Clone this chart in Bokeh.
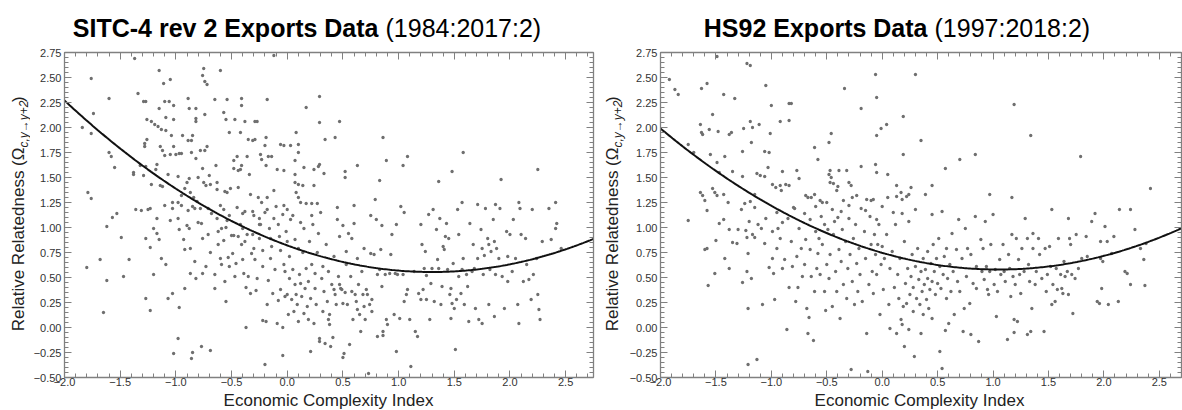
import numpy as np
from bokeh.plotting import figure
from bokeh.layouts import row, column
from bokeh.models import Range1d, LinearAxis, FixedTicker
from bokeh.core.properties import value
from bokeh.embed import file_html
from bokeh.resources import INLINE

# ---------------- data ----------------
sitc_title = "SITC-4 rev 2 Exports Data"
sitc_period = "(1984:2017:2)"
hs_title = "HS92 Exports Data"
hs_period = "(1997:2018:2)"
x_label = "Economic Complexity Index"
y_label_main = "Relative Relatedness (\u03a9"
y_label_sub = "c,y\u2192y+2"
y_label_end = ")"

x_ticks = [-2.0, -1.5, -1.0, -0.5, 0.0, 0.5, 1.0, 1.5, 2.0, 2.5]
x_tick_labels = ["\u22122.0", "\u22121.5", "\u22121.0", "\u22120.5", "0.0", "0.5", "1.0", "1.5", "2.0", "2.5"]
y_ticks = [-0.5, -0.25, 0.0, 0.25, 0.5, 0.75, 1.0, 1.25, 1.5, 1.75, 2.0, 2.25, 2.5, 2.75]
y_tick_labels = ["\u22120.50", "\u22120.25", "0.00", "0.25", "0.50", "0.75", "1.00", "1.25",
                 "1.50", "1.75", "2.00", "2.25", "2.50", "2.75"]

# quadratic fit coefficients (a, b, c)
sitc_fit = [0.1575, -0.4095, 0.8212]
hs_fit = [0.1516, -0.3184, 0.7471]

sitc_points = [
    (-1.37, 2.69), (-1.76, 2.49), (-0.12, 2.72), (-1.15, 2.57), (-1.05, 2.48), (-1.11, 2.44),
    (-0.75, 2.59), (-0.76, 2.52), (-0.74, 2.46), (-0.72, 2.43), (-0.60, 2.57), (-1.60, 2.29),
    (-1.34, 2.34), (-1.29, 2.26), (-1.27, 2.26), (-1.10, 2.26), (-1.06, 2.26), (-1.15, 2.19),
    (-1.02, 2.22), (-0.89, 2.29), (-0.88, 2.19), (-0.82, 2.19), (-0.74, 2.13), (-0.65, 2.28),
    (-0.54, 2.28), (-0.41, 2.29), (-0.41, 2.22), (-0.57, 2.15), (-0.55, 2.08), (-0.18, 2.28),
    (0.29, 2.31), (-1.74, 2.14), (-1.84, 2.00), (-1.76, 1.94), (-1.26, 2.08), (-1.22, 2.06),
    (-1.19, 2.03), (-1.16, 2.01), (-1.13, 1.98), (-1.09, 2.10), (-1.02, 2.08), (-1.09, 1.97),
    (-1.04, 1.92), (-0.82, 2.09), (-0.82, 2.06), (-0.94, 1.92), (-0.85, 1.92), (-0.89, 1.87),
    (-0.86, 1.87), (-1.26, 1.88), (-1.28, 1.84), (-1.28, 1.81), (-1.14, 1.81), (-1.12, 1.77),
    (-1.10, 1.72), (-1.05, 1.73), (-1.02, 1.81), (-1.00, 1.73), (-0.97, 1.74), (-0.95, 1.74),
    (-0.86, 1.75), (-0.78, 1.77), (-0.74, 1.77), (-0.72, 1.81), (-0.82, 1.69), (-0.47, 2.08),
    (-0.52, 1.95), (-0.42, 1.95), (-0.27, 2.06), (-0.29, 2.06), (-0.19, 1.90), (-0.29, 1.88),
    (-0.20, 1.82), (-0.06, 1.83), (0.08, 1.95), (0.17, 2.20), (0.29, 2.05), (0.47, 2.06),
    (0.43, 1.90), (0.34, 1.88), (0.86, 1.90), (1.08, 1.71), (1.58, 1.75), (2.25, 1.58),
    (1.04, 1.62), (0.89, 1.67), (0.63, 1.62), (0.52, 1.56), (0.52, 1.50), (0.83, 1.47),
    (1.36, 1.46), (1.48, 1.56), (1.92, 1.48), (0.79, 1.28), (1.57, 1.25), (2.08, 1.25),
    (2.41, 1.25), (1.71, 1.23), (1.87, 1.23),
    (-0.38, 2.06), (-0.35, 1.88), (-0.31, 1.87), (-0.17, 1.71), (-0.14, 1.71), (-0.19, 1.62),
    (-0.23, 1.68), (-0.24, 1.73), (-0.45, 1.71), (-0.36, 1.71), (-0.48, 1.67), (-0.48, 1.59),
    (-0.44, 1.57), (-0.42, 1.58), (-0.41, 1.62), (-0.34, 1.53), (-0.64, 1.62), (-0.70, 1.52),
    (-0.75, 1.45), (-0.76, 1.59), (-0.80, 1.50), (-0.88, 1.49), (-0.90, 1.45), (-0.92, 1.39),
    (-0.87, 1.35), (-0.84, 1.30), (-0.81, 1.26), (-0.98, 1.25), (-0.73, 1.42), (-0.69, 1.43),
    (-0.63, 1.45), (-0.63, 1.38), (-0.56, 1.36), (-0.54, 1.35), (-0.51, 1.39), (-0.44, 1.40),
    (-0.33, 1.33), (-0.26, 1.30), (-0.23, 1.25), (-0.18, 1.30), (-0.12, 1.37), (-0.09, 1.58),
    (-0.03, 1.57), (-0.03, 1.82), (0.03, 1.82), (0.07, 1.67), (0.07, 1.53), (0.07, 1.45),
    (0.10, 1.43), (0.14, 1.42), (0.15, 1.60), (0.10, 1.75), (0.10, 1.83), (0.24, 1.58),
    (0.28, 1.61), (0.24, 1.42), (0.29, 1.63), (0.33, 1.54), (0.08, 1.35), (0.10, 1.30),
    (0.12, 1.25), (0.17, 1.24), (0.22, 1.24), (0.27, 1.24), (-0.03, 1.22),
    (-1.60, 1.75), (-1.58, 1.71), (-1.55, 1.60), (-1.38, 1.55), (-1.38, 1.53), (-1.32, 1.62),
    (-1.29, 1.52), (-1.27, 1.61), (-1.22, 1.43), (-1.18, 1.58), (-1.17, 1.63), (-1.14, 1.42),
    (-1.12, 1.41), (-1.07, 1.53), (-0.98, 1.51), (-1.79, 1.35), (-1.76, 1.29), (-1.03, 1.25),
    (-0.95, 1.32),
    (-0.95, 1.22), (-0.85, 1.21), (-0.60, 1.22), (-0.45, 1.20), (-0.40, 1.14), (-0.30, 1.12),
    (-0.20, 1.15), (-0.10, 1.21), (0.00, 1.18), (0.05, 1.12), (0.12, 1.05), (-0.52, 1.12),
    (-0.68, 1.14), (-0.80, 1.05), (-0.90, 1.02), (-1.10, 1.22), (0.30, 1.15), (0.45, 1.20),
    (0.60, 1.22), (0.75, 1.12), (1.05, 1.15), (0.85, 1.02), (0.50, 1.02), (-0.25, 1.03),
    (-0.55, 1.00), (0.22, 1.12),
    (-1.80, 0.60), (-1.68, 0.68), (-1.65, 0.15), (-1.62, 1.01), (-1.62, 0.47), (-1.57, 1.10),
    (-1.53, 1.14), (-1.49, 0.90), (-1.47, 0.51), (-1.42, 0.68), (-1.36, 1.18), (-1.31, 1.17),
    (-1.27, 0.89), (-1.27, 0.29), (-1.25, 1.18), (-1.23, 1.19), (-1.20, 0.99), (-1.23, 0.80),
    (-1.23, 0.17), (-1.20, 0.53), (-1.17, 0.94), (-1.15, 0.88), (-1.17, 1.09), (-1.13, 0.69),
    (-1.09, 0.63), (-1.07, 0.29), (-1.05, 1.07), (-1.03, 1.19), (-1.03, 0.34), (-1.02, -0.26),
    (-0.98, 1.09), (-0.97, 0.98), (-0.93, 0.88), (-0.92, 0.78), (-0.92, 0.39), (-0.98, -0.11),
    (-0.97, 0.20), (-0.89, 1.17), (-0.88, 0.99), (-0.87, 0.79), (-0.87, 0.54), (-0.86, -0.31),
    (-0.85, -0.25), (-0.83, 1.19), (-0.83, 0.66), (-0.82, 0.49), (-0.78, 1.19), (-0.77, 1.04),
    (-0.76, 0.89), (-0.76, 0.54), (-0.77, -0.19), (-0.73, 0.61), (-0.71, 1.19), (-0.71, 0.93),
    (-0.69, -0.23), (-0.69, 0.75), (-0.65, 0.53), (-0.65, 0.39), (-0.63, 1.09), (-0.62, 0.96),
    (-0.62, 0.83), (-0.60, 0.69), (-0.59, 0.63), (-0.59, 0.99), (-0.57, 1.18), (-0.57, 0.87),
    (-0.56, 0.46), (-0.55, 0.26), (-0.54, 1.07), (-0.53, 0.70), (-0.52, 0.61), (-0.50, 0.92),
    (-0.48, 0.92), (-0.49, 0.74), (-0.47, 0.51), (-0.46, 0.64), (-0.44, 0.91), (-0.42, 1.03),
    (-0.41, 0.83), (-0.40, 0.99), (-0.40, 0.68), (-0.39, 0.54), (-0.38, 1.16), (-0.38, 0.86),
    (-0.37, 0.00), (-0.37, 0.40), (-0.36, 0.93), (-0.35, 0.51), (-0.33, 0.34), (-0.32, 0.74),
    (-0.31, 1.16), (-0.31, 0.93), (-0.30, 0.79), (-0.29, 0.68), (-0.28, 0.37), (-0.27, 0.49),
    (-0.25, 1.09), (-0.25, 0.89), (-0.24, 1.03), (-0.22, 0.77), (-0.22, 0.61), (-0.22, 0.07),
    (-0.20, -0.37), (-0.19, 0.06), (-0.18, 1.18), (-0.18, 0.23), (-0.17, 0.47), (-0.16, 0.99),
    (-0.15, 0.89), (-0.15, 0.69), (-0.14, 0.81), (-0.13, 0.34), (-0.12, 1.09), (-0.11, 0.58),
    (-0.09, 0.04), (-0.08, 0.27), (-0.08, 1.03), (-0.07, 0.91), (-0.06, 0.77), (-0.06, 0.38),
    (-0.04, 1.13), (-0.04, 0.00), (-0.04, -0.28), (-0.03, 0.63), (-0.02, 0.56), (-0.02, 0.31),
    (-0.01, 0.96), (0.00, 0.86), (0.00, 0.33), (0.01, 0.13), (0.02, 0.49), (0.02, 0.71),
    (0.03, 1.08), (0.04, 0.28), (0.05, 0.58), (0.06, 0.16), (0.07, 0.43), (0.07, 0.88),
    (0.08, 0.33), (0.09, 0.23), (0.10, 0.79), (0.10, 0.06), (0.11, 0.53), (0.12, 0.44),
    (0.13, 0.31), (0.14, 0.75), (0.15, 0.14), (0.15, 0.99), (0.16, 0.39), (0.17, 0.59),
    (0.18, 0.21), (0.19, 0.08), (0.19, 0.46), (0.20, 0.86), (0.21, -0.24), (0.21, 0.29),
    (0.22, 0.63), (0.23, 1.03), (0.24, 0.04), (0.25, 0.39), (0.25, 0.54), (0.26, 0.23),
    (0.27, 0.75), (0.28, 0.94), (0.29, -0.11), (0.29, -0.14), (0.31, 0.49), (0.32, 0.16),
    (0.32, 0.61), (0.33, 0.36), (0.34, -0.16), (0.35, 0.83), (0.36, 0.26), (0.37, 0.08),
    (0.37, 0.56), (0.38, 0.03), (0.38, 0.13), (0.39, -0.19), (0.40, 0.43), (0.41, -0.10),
    (0.42, 0.71), (0.42, 0.38), (0.43, 0.33), (0.44, 0.23), (0.45, 1.08), (0.46, 0.51),
    (0.47, 0.91), (0.47, 0.43), (0.48, 0.39), (0.49, 0.38), (0.50, 0.24), (0.50, -0.30),
    (0.51, -0.26), (0.52, 0.35), (0.53, 0.76), (0.53, 0.63), (0.54, 0.23), (0.55, 0.94),
    (0.56, -0.17), (0.57, 0.51), (0.58, 0.36), (0.58, 0.89), (0.59, 0.08), (0.60, 1.04),
    (0.61, 0.33), (0.62, 0.26), (0.63, 0.69), (0.63, 0.18), (0.64, 0.43), (0.65, 0.13),
    (0.66, -0.04), (0.67, 0.56), (0.68, 0.33), (0.69, 0.79), (0.69, 0.21), (0.70, 0.08),
    (0.71, 0.38), (0.72, 0.33), (0.73, -0.46), (0.74, 0.23), (0.75, 0.74), (0.76, 0.28),
    (0.76, 0.16), (0.78, 0.73), (0.80, 1.08), (0.81, -0.09), (0.81, 0.53), (0.83, 0.58),
    (0.84, 0.78), (0.85, 0.41), (0.86, -0.08), (0.86, -0.04), (0.88, 0.53), (0.89, 0.08),
    (0.90, 0.03), (0.92, 0.54), (0.93, 0.73), (0.94, 0.93), (0.96, 0.13), (0.97, 0.54),
    (0.98, -0.24), (0.98, 1.03), (0.99, 0.53), (1.01, 0.09), (1.02, 1.21), (1.04, 0.53),
    (1.05, 0.26), (1.07, 0.33), (1.08, 0.38), (1.10, 0.08), (1.11, -0.39), (1.14, 0.56),
    (1.15, -0.04), (1.17, -0.09), (1.18, 0.34), (1.20, 1.03), (1.20, 0.28), (1.21, 0.83),
    (1.22, 0.38), (1.23, 0.59), (1.24, 0.76), (1.25, 0.52), (1.25, 0.28), (1.27, 1.13),
    (1.28, 0.08), (1.29, 0.44), (1.30, 0.59), (1.31, 1.18), (1.32, 0.26), (1.34, 0.98),
    (1.35, 0.68), (1.36, 0.59), (1.37, 1.09), (1.38, 0.23), (1.39, 0.41), (1.40, 0.81),
    (1.41, 0.78), (1.42, 0.91), (1.43, 1.04), (1.44, 0.58), (1.45, 0.89), (1.46, 0.33),
    (1.47, 0.09), (1.47, 0.39), (1.48, 0.24), (1.49, 0.64), (1.50, 0.19), (1.51, -0.22),
    (1.52, 0.28), (1.53, 1.18), (1.54, 0.51), (1.54, 0.93), (1.56, 0.34), (1.57, 0.58),
    (1.58, 0.69), (1.59, 0.23), (1.61, 0.53), (1.62, 0.41), (1.63, 0.06), (1.64, 1.04),
    (1.66, 0.56), (1.67, 0.83), (1.68, 0.59), (1.69, 0.19), (1.71, 0.69), (1.72, 0.08),
    (1.74, 0.98), (1.75, 0.79), (1.75, 0.04), (1.76, 0.53), (1.77, 0.72), (1.78, 1.19),
    (1.80, 0.89), (1.81, 0.83), (1.81, 0.23), (1.82, 0.58), (1.83, 0.76), (1.85, 1.08),
    (1.86, 0.11), (1.86, 0.86), (1.87, 0.53), (1.88, 0.79), (1.90, 0.69), (1.91, 1.19),
    (1.93, 0.51), (1.95, 0.19), (1.97, 0.96), (1.98, 0.71), (1.98, 0.46), (2.00, 0.93),
    (2.02, 0.56), (2.03, 1.08), (2.05, 0.69), (2.07, 0.23), (2.08, 0.04), (2.09, 1.19),
    (2.10, 0.93), (2.12, 0.46), (2.14, 0.89), (2.15, 0.63), (2.17, 0.48), (2.19, 0.28),
    (2.20, 1.18), (2.21, 0.53), (2.24, 0.69), (2.25, 0.33), (2.26, 0.18), (2.27, 0.08),
    (2.29, 0.86), (2.35, 1.19), (2.37, 0.88), (2.41, 0.99), (2.42, 1.04), (2.46, 0.79),
]

hs_points = [
    (-1.92, 2.48), (-1.87, 2.38), (-1.84, 2.33), (-1.75, 1.83), (-1.70, 1.75), (-1.63, 2.39),
    (-1.58, 2.44), (-1.49, 2.71), (-1.64, 2.03), (-1.63, 1.95), (-1.62, 1.93), (-1.56, 1.98),
    (-1.53, 2.13), (-1.48, 1.96), (-1.43, 2.33), (-1.38, 1.93), (-1.36, 1.95), (-1.33, 2.29),
    (-1.25, 1.99), (-1.22, 2.64), (-1.19, 2.62), (-1.19, 2.06), (-1.17, 2.00), (-1.11, 2.03),
    (-1.05, 2.42), (-1.00, 2.22), (-1.01, 1.94), (-1.55, 1.73), (-1.49, 1.65), (-1.42, 1.71),
    (-1.47, 1.55), (-1.35, 1.56), (-1.26, 1.76), (-1.26, 1.51), (-1.18, 1.85), (-1.13, 1.54),
    (-1.10, 1.52), (-1.06, 1.76), (-1.02, 1.75), (-1.03, 1.60), (-1.06, 1.51), (-0.92, 2.06),
    (-0.84, 2.24), (-0.82, 2.24), (-0.84, 2.07), (-0.90, 1.56), (-0.87, 1.43), (-0.84, 1.42),
    (-0.77, 1.57), (-0.75, 1.49), (-0.92, 1.42), (-0.99, 1.43), (-0.96, 1.40), (-0.91, 1.37),
    (-0.64, 1.30), (-0.61, 1.33), (-0.56, 1.27), (-0.54, 1.25), (-0.50, 1.25), (-0.61, 1.80),
    (-0.58, 1.68), (-0.48, 1.85), (-0.46, 1.94), (-0.47, 1.57), (-0.48, 1.53), (-0.46, 1.50),
    (-0.47, 1.45), (-0.44, 1.44), (-0.40, 1.41), (-0.39, 1.57), (-0.34, 2.39), (-0.30, 1.45),
    (-0.32, 1.57), (-0.28, 1.42), (-0.27, 1.30), (-0.19, 1.61), (-0.19, 2.19), (-0.10, 1.27),
    (-0.08, 1.28), (-0.06, 2.53), (-0.05, 2.30), (-0.05, 1.92), (-0.06, 1.63), (-0.05, 1.55),
    (-0.01, 1.99), (0.04, 2.03), (0.05, 1.53), (0.05, 1.30), (0.13, 1.42), (0.13, 1.31),
    (0.17, 1.35), (0.18, 1.28), (0.19, 2.11), (0.19, 1.73), (0.22, 1.31), (0.24, 1.33),
    (0.26, 1.40), (0.30, 2.53), (0.35, 1.87), (0.39, 1.33), (0.45, 1.42), (0.57, 1.59),
    (0.70, 1.68), (0.84, 1.73), (0.97, 1.33), (1.17, 1.30), (1.19, 2.23), (1.34, 1.92),
    (1.79, 1.71), (2.42, 1.39),
    (-1.64, 1.35), (-1.62, 1.32), (-1.60, 1.27), (-1.53, 1.39), (-1.51, 1.35), (-1.49, 1.32),
    (-1.43, 1.33), (-1.39, 1.25), (-1.24, 1.24), (-1.19, 1.26), (-1.15, 1.33),
    (-0.69, 1.32), (-0.67, 1.30), (-0.41, 1.37), (-0.35, 1.27), (-0.23, 1.32), (-0.14, 1.28),
    (-1.15, 1.20), (-0.95, 1.15), (-0.80, 1.20), (-0.70, 1.14), (-0.60, 1.21), (-0.45, 1.18),
    (-0.30, 1.22), (-0.15, 1.17), (0.00, 1.21), (0.10, 1.15), (0.30, 1.18), (0.45, 1.13),
    (-0.52, 1.03), (-0.90, 1.05), (-0.40, 1.10), (-0.05, 1.08),
    (-1.75, 1.07), (-1.60, 0.78), (-1.58, 0.79), (-1.58, 1.17), (-1.57, 0.42), (-1.51, 0.54),
    (-1.50, 0.87), (-1.47, 1.04), (-1.43, 1.08), (-1.42, 0.69), (-1.38, 0.98), (-1.38, 0.59),
    (-1.35, 0.85), (-1.31, 0.84), (-1.30, 0.98), (-1.27, 1.18), (-1.26, 0.45), (-1.23, 0.97),
    (-1.22, 0.90), (-1.22, 0.56), (-1.21, 0.74), (-1.21, -0.37), (-1.21, 0.19), (-1.20, 1.06),
    (-1.18, 0.49), (-1.17, 0.93), (-1.15, 0.90), (-1.13, -0.32), (-1.12, 1.03), (-1.09, 0.99),
    (-1.08, 0.23), (-1.06, 0.84), (-1.05, 1.09), (-1.02, 0.60), (-0.99, 0.69), (-0.99, 0.96),
    (-0.98, 0.54), (-0.97, 0.28), (-0.95, 0.79), (-0.94, 0.99), (-0.92, 0.89), (-0.90, 0.59),
    (-0.88, 0.68), (-0.86, -0.02), (-0.85, 1.09), (-0.84, 0.40), (-0.82, 0.86), (-0.81, 0.61),
    (-0.79, 1.19), (-0.78, 0.26), (-0.77, 0.71), (-0.76, 0.40), (-0.75, 0.99), (-0.73, 0.79),
    (-0.72, 0.51), (-0.70, 0.63), (-0.69, 0.88), (-0.68, 0.19), (-0.67, -0.06), (-0.66, 0.10),
    (-0.65, 1.08), (-0.65, 0.78), (-0.64, 0.51), (-0.62, -0.13), (-0.61, 0.36), (-0.60, 0.96),
    (-0.59, 0.59), (-0.58, 0.74), (-0.57, 0.89), (-0.56, 0.53), (-0.55, 1.11), (-0.54, 0.83),
    (-0.52, 0.36), (-0.51, 0.17), (-0.50, 0.63), (-0.49, 0.98), (-0.48, 0.49), (-0.47, 0.73),
    (-0.45, 0.21), (-0.44, 0.93), (-0.43, 1.06), (-0.42, 0.56), (-0.41, 0.36), (-0.39, 0.78),
    (-0.38, 0.09), (-0.37, 1.16), (-0.37, 0.66), (-0.36, 0.98), (-0.35, 0.43), (-0.33, 0.86),
    (-0.32, 0.29), (-0.31, 0.59), (-0.30, 1.09), (-0.29, 0.73), (-0.28, -0.42), (-0.27, 0.46),
    (-0.26, 0.89), (-0.25, 0.23), (-0.24, 1.03), (-0.23, 0.64), (-0.22, 0.36), (-0.21, 0.79),
    (-0.20, 0.53), (-0.19, 1.19), (-0.18, 0.26), (-0.16, 0.96), (-0.15, 0.69), (-0.14, -0.06),
    (-0.13, -0.44), (-0.12, 0.43), (-0.11, 1.11), (-0.10, 0.83), (-0.09, 0.56), (-0.08, 0.34),
    (-0.07, 0.93), (-0.06, 0.73), (-0.05, 0.53), (-0.04, 0.83), (-0.03, 1.03), (-0.02, 0.13),
    (-0.01, 0.63), (0.00, 0.81), (0.01, 0.38), (0.02, 0.69), (0.04, 0.93), (0.06, 0.23),
    (0.07, 0.59), (0.07, -0.01), (0.09, 0.76), (0.11, 0.40), (0.12, 1.03), (0.13, -0.06),
    (0.14, 0.53), (0.15, 0.29), (0.16, 0.69), (0.17, 0.08), (0.18, 1.14), (0.18, 0.03),
    (0.19, 0.21), (0.20, -0.19), (0.20, 0.86), (0.21, 0.44), (0.22, 0.24), (0.23, 0.59),
    (0.24, -0.02), (0.24, 1.06), (0.25, 0.33), (0.26, 0.51), (0.27, 0.73), (0.28, 0.16),
    (0.28, 0.40), (0.29, -0.29), (0.30, 0.61), (0.31, 0.29), (0.32, 0.79), (0.33, 0.48),
    (0.34, 0.23), (0.35, 0.56), (0.35, -0.06), (0.36, 0.36), (0.37, 0.69), (0.37, 0.13),
    (0.38, 0.43), (0.39, 0.58), (0.40, 0.28), (0.41, 0.49), (0.41, 0.76), (0.42, 0.19),
    (0.43, 0.38), (0.44, 0.64), (0.45, 0.46), (0.45, 0.09), (0.46, 0.83), (0.47, 0.56),
    (0.48, 0.33), (0.49, 0.69), (0.50, 0.44), (0.51, 0.89), (0.52, 0.61), (0.52, -0.24),
    (0.53, 0.39), (0.54, 1.16), (0.54, -0.41), (0.55, 0.53), (0.56, 0.71), (0.57, -0.03),
    (0.58, 0.29), (0.58, 0.79), (0.59, 0.49), (0.60, 0.04), (0.61, 0.63), (0.62, 0.36),
    (0.63, 0.94), (0.64, 0.56), (0.65, 0.13), (0.67, 0.78), (0.68, 0.46), (0.69, 1.08),
    (0.70, 0.36), (0.72, 0.69), (0.73, -0.04), (0.74, 0.19), (0.75, 0.99), (0.76, 0.51),
    (0.77, 0.79), (0.79, 0.24), (0.80, -0.07), (0.80, 0.73), (0.82, 0.44), (0.84, 1.11),
    (0.85, 0.61), (0.85, 0.39), (0.87, -0.14), (0.89, 0.88), (0.90, 0.56), (0.91, 0.79),
    (0.92, 0.48), (0.93, 1.06), (0.94, 0.61), (0.95, 0.38), (0.96, 0.33), (0.97, 0.56),
    (0.98, 0.83), (1.00, 1.13), (1.01, 0.43), (1.02, 0.58), (1.03, 0.11), (1.04, 0.36),
    (1.06, 0.68), (1.07, 0.53), (1.09, 0.83), (1.10, 0.56), (1.11, 0.46), (1.13, -0.12),
    (1.14, 0.73), (1.15, 0.59), (1.16, 0.31), (1.17, 0.93), (1.18, 0.51), (1.19, -0.05),
    (1.19, 0.08), (1.20, 0.43), (1.21, 0.89), (1.22, 0.06), (1.23, 0.68), (1.24, 0.53),
    (1.25, 0.34), (1.26, 0.79), (1.28, 0.56), (1.29, 1.09), (1.31, 0.89), (1.31, -0.07),
    (1.32, 0.63), (1.33, 0.46), (1.34, -0.04), (1.35, 0.19), (1.36, 0.79), (1.36, 0.94),
    (1.38, 0.43), (1.39, 0.56), (1.41, 0.89), (1.42, 0.73), (1.44, 0.49), (1.46, -0.04),
    (1.47, 0.79), (1.48, 0.36), (1.49, 0.53), (1.51, 0.81), (1.52, 0.61), (1.53, 1.18),
    (1.53, 0.23), (1.54, 0.43), (1.56, 0.26), (1.57, 0.59), (1.58, 0.38), (1.59, 0.89),
    (1.61, 0.53), (1.62, 0.39), (1.63, 0.34), (1.64, 0.66), (1.65, 0.51), (1.67, 0.56),
    (1.68, 1.09), (1.68, 0.33), (1.69, 0.89), (1.70, 0.83), (1.71, 0.53), (1.72, 0.14),
    (1.74, 0.49), (1.75, 0.93), (1.77, 0.59), (1.80, 0.69), (1.84, 0.91), (1.85, 0.71),
    (1.89, 1.06), (1.92, 1.14), (1.94, 0.26), (1.96, 0.24), (1.97, 0.86), (1.97, 0.69),
    (1.98, 0.39), (1.99, 0.66), (2.01, 1.01), (2.03, 0.86), (2.04, 0.23), (2.07, 0.74),
    (2.09, 0.91), (2.13, 0.26), (2.14, 1.18), (2.19, 0.56), (2.21, 0.54), (2.24, 1.18),
    (2.24, 0.43), (2.28, 0.98), (2.33, 0.79), (2.36, 0.68), (2.37, 0.42), (2.38, 0.84),
]

# ---------------- styling / layout constants (pixels) ----------------
FONT = "Liberation Sans"
AXIS_GREY = "#808080"
DOT_GREY = "#6f6f6f"
TEXT_DARK = "#222222"
H_TITLE = 48      # title strip height (screen 0..48)
H_MID = 342       # plot strip height (screen 48..390, frame 52..377)
H_XLAB = 20       # x label strip height (screen 390..410)
W_YLAB = 30       # y label strip width


def text_strip(width, height):
    f = figure(width=width, height=height, output_backend="svg", toolbar_location=None,
               x_range=Range1d(0, width), y_range=Range1d(0, height),
               min_border_left=0, min_border_right=0, min_border_top=0, min_border_bottom=0,
               x_axis_location=None, y_axis_location=None)
    f.outline_line_color = None
    f.grid.visible = False
    f.border_fill_color = "white"
    f.background_fill_color = "white"
    return f


def add_text(f, x, y, txt, size, style="normal", angle=0.0, align="left", color=TEXT_DARK):
    f.text(x=[x], y=[y], text=[txt], angle=angle, text_font=value(FONT),
           text_font_size=value(size), text_font_style=style, text_color=color,
           text_align=align, text_baseline="middle")


def build_panel(points, fit, title_bold, title_rest, x_end, width,
                frame_left, border_right, title_joint):
    # ---- scatter plot ----
    pw = width - W_YLAB
    p = figure(width=pw, height=H_MID, output_backend="svg", toolbar_location=None,
               x_range=Range1d(-2.0, x_end), y_range=Range1d(-0.5, 2.75),
               min_border_left=frame_left - W_YLAB, min_border_right=border_right,
               min_border_top=52 - H_TITLE, min_border_bottom=H_TITLE + H_MID - 377,
               x_axis_location=None, y_axis_location=None)
    p.outline_line_color = None
    p.grid.visible = False
    p.border_fill_color = "white"
    p.background_fill_color = "white"

    x_minor = [round(v, 2) for v in np.arange(-2.0, x_end + 1e-9, 0.1)]
    y_minor = [round(v, 3) for v in np.arange(-0.5, 2.75 + 1e-9, 0.05)]

    def style(ax, labels, ticks, standoff):
        ax.axis_line_color = AXIS_GREY
        ax.axis_line_width = 1.3
        ax.major_tick_line_color = AXIS_GREY
        ax.minor_tick_line_color = AXIS_GREY
        ax.major_tick_in = 7
        ax.major_tick_out = 0
        ax.minor_tick_in = 4
        ax.minor_tick_out = 0
        if labels is not None:
            ax.major_label_overrides = {t: l for t, l in zip(ticks, labels)}
            ax.major_label_text_font = FONT
            ax.major_label_text_font_size = "11px"
            ax.major_label_text_color = "#333333"
            ax.major_label_standoff = standoff
        else:
            ax.major_label_overrides = {t: "" for t in ticks}
            ax.major_label_text_font_size = "0px"
            ax.major_label_standoff = 0

    for loc, lab in (("below", x_tick_labels), ("above", None)):
        ax = LinearAxis(ticker=FixedTicker(ticks=x_ticks, minor_ticks=x_minor))
        style(ax, lab, x_ticks, 0)
        p.add_layout(ax, loc)
    for loc, lab in (("left", y_tick_labels), ("right", None)):
        ax = LinearAxis(ticker=FixedTicker(ticks=y_ticks, minor_ticks=y_minor))
        style(ax, lab, y_ticks, 3)
        p.add_layout(ax, loc)

    xs = [pt[0] for pt in points]
    ys = [pt[1] for pt in points]
    p.scatter(xs, ys, size=3.3, fill_color=DOT_GREY, line_color=None)
    cx = np.linspace(-2.0, x_end, 300)
    p.line(cx, np.polyval(fit, cx), line_color="#111111", line_width=2)

    # ---- title strip: bold part ends at the joint, regular part follows ----
    t = text_strip(width, H_TITLE)
    ty = H_TITLE - 27
    add_text(t, title_joint, ty, title_bold, "25px", style="bold", align="right", color="black")
    add_text(t, title_joint + 7, ty, title_rest, "25px", align="left", color="black")

    # ---- y label strip (strip y = H_TITLE + H_MID - screen_y) ----
    yl = text_strip(W_YLAB, H_MID)
    base = H_TITLE + H_MID
    lx = frame_left - 45
    joint = 148  # screen y where the subscript starts
    add_text(yl, lx, base - joint, y_label_main, "17px", angle=np.pi / 2, align="right")
    add_text(yl, lx + 5, base - joint, y_label_sub, "12px", style="italic",
             angle=np.pi / 2, align="left")
    add_text(yl, lx, base - joint + 48, y_label_end, "17px", angle=np.pi / 2, align="left")

    # ---- x label strip (strip y = 410 - screen_y) ----
    xl = text_strip(width, H_XLAB)
    frame_center = frame_left + (pw - (frame_left - W_YLAB) - border_right) / 2
    add_text(xl, frame_center, 410 - 400.2, x_label, "17px", align="center")

    return column(t, row(yl, p), xl)


panel1 = build_panel(sitc_points, sitc_fit, sitc_title, sitc_period, 2.75, 596, 63, 3, 378)
panel2 = build_panel(hs_points, hs_fit, hs_title, hs_period, 2.70, 586, 61, 1, 927 - 596)

layout = row(panel1, panel2)
open("out.html", "w").write(file_html(layout, INLINE))
